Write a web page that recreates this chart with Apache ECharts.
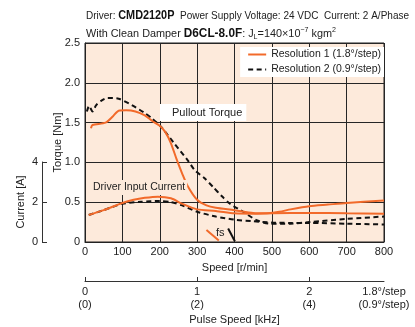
<!DOCTYPE html>
<html><head><meta charset="utf-8">
<script src="https://cdn.jsdelivr.net/npm/echarts@6/dist/echarts.min.js"></script>
<style>html,body{margin:0;padding:0;background:#fff}#c{width:415px;height:327px}</style>
</head><body><div id="c"></div>
<script>
// Pullout torque, Resolution 1 (1.8°/step)
const pullSpeed1 = [16, 20, 55, 75, 90, 110, 135, 160, 180, 200, 215, 230, 245, 260, 275, 300, 325, 350, 400, 450, 480, 520, 550, 600, 650, 700, 800];
const pullTorque1 = [1.43, 1.47, 1.50, 1.58, 1.65, 1.655, 1.64, 1.59, 1.52, 1.46, 1.38, 1.24, 1.04, 0.86, 0.70, 0.53, 0.46, 0.43, 0.40, 0.365, 0.36, 0.38, 0.41, 0.45, 0.47, 0.49, 0.52];
// Pullout torque, Resolution 2 (0.9°/step)
const pullSpeed2 = [5, 11, 20, 30, 45, 60, 90, 125, 160, 180, 205, 240, 276, 294, 320, 343, 365, 388, 423, 459, 495, 550, 600, 700, 800];
const pullTorque2 = [1.64, 1.71, 1.64, 1.72, 1.78, 1.81, 1.80, 1.72, 1.62, 1.55, 1.44, 1.23, 1.02, 0.90, 0.80, 0.69, 0.58, 0.48, 0.38, 0.275, 0.23, 0.23, 0.25, 0.29, 0.32];
// Driver input current [A], Resolution 1
const curSpeed1 = [10, 50, 100, 130, 160, 195, 230, 260, 300, 350, 400, 450, 500, 600, 700, 800];
const current1 = [1.36, 1.6, 1.96, 2.12, 2.22, 2.28, 2.2, 1.92, 1.64, 1.56, 1.44, 1.42, 1.44, 1.46, 1.44, 1.42];
// Driver input current [A], Resolution 2
const curSpeed2 = [10, 50, 100, 150, 200, 230, 260, 300, 350, 400, 450, 500, 550, 600, 700, 800];
const current2 = [1.36, 1.6, 1.92, 2.02, 2.06, 2.0, 1.84, 1.52, 1.28, 1.12, 1.04, 0.98, 0.96, 0.96, 0.92, 0.88];
// fs (starting pulse rate) markers
const fsSpeed1 = [325, 358];
const fsTorque1 = [0.15, 0.02];
const fsSpeed2 = [383, 401];
const fsTorque2 = [0.17, 0.01];
// Axes / text
const pulseTicks = [0, 1, 2];
const pulseLabels = ['0\n(0)', '1\n(2)', '2\n(4)'];
const pulseEndLabel = '1.8°/step\n(0.9°/step)';
const legendNames = ['Resolution 1 (1.8°/step)', 'Resolution 2 (0.9°/step)'];
const title1 = [['n', 'Driver: '], ['b', 'CMD2120P'], ['n', '  Power Supply Voltage: 24 VDC  Current: 2 A/Phase']];
const title2 = [['n', 'With Clean Damper '], ['b', 'D6CL-8.0F'], ['n', ': J'], ['s', 'L'], ['n', '=140×10'], ['p', '−7'], ['n', ' kgm'], ['p', '2']];

const FONT = '"Liberation Sans", Arial, sans-serif';
const ORANGE = '#f26a2a';
const BG = '#fdeadb';
const GRIDC = '#262626';
const FS = 11;
const zip = (a, b) => a.map((v, i) => [v, b[i]]);
const pulseMax = 800 / 300;

const rich = {
  n: {fontFamily: FONT, fontSize: 11.5, fill: '#222', fontWeight: 'normal', lineHeight: 15},
  b: {fontFamily: FONT, fontSize: 12.5, fill: '#111', fontWeight: 'bold', lineHeight: 15},
  s: {fontFamily: FONT, fontSize: 7.5, fill: '#222', verticalAlign: 'bottom', lineHeight: 13},
  p: {fontFamily: FONT, fontSize: 7.5, fill: '#222', verticalAlign: 'top', lineHeight: 15}
};
const mctx = document.createElement('canvas').getContext('2d');
function lineWidth(parts) {
  let w = 0;
  parts.forEach(([k, t]) => {
    const st = rich[k];
    mctx.font = (st.fontWeight === 'bold' ? 'bold ' : '') + st.fontSize + 'px ' + FONT;
    w += mctx.measureText(t).width;
  });
  return w;
}
const richText = parts => parts.map(([k, t]) => '{' + k + '|' + t + '}').join('');

const chart = echarts.init(document.getElementById('c'), null, {renderer: 'canvas'});
const txt = {fontFamily: FONT, fontSize: FS, color: '#222', fontWeight: 'normal'};
chart.setOption({
  animation: false,
  textStyle: {fontFamily: FONT},
  legend: {
    right: 31, top: 47, orient: 'vertical', backgroundColor: '#fff', padding: [2, 3, 2, 7],
    itemWidth: 18, itemHeight: 10, itemGap: 4, data: legendNames,
    itemStyle: {opacity: 0},
    textStyle: {fontFamily: FONT, fontSize: 10.5, color: '#222'}
  },
  grid: [
    {left: 85, right: 31, top: 43, bottom: 85, show: true, backgroundColor: BG, borderColor: '#222', borderWidth: 1},
    {left: 42, width: 1, top: 162, bottom: 85},
    {left: 85, right: 31, top: 280, height: 1}
  ],
  xAxis: [
    {gridIndex: 0, type: 'value', min: 0, max: 800, interval: 100,
     axisLine: {show: true, lineStyle: {color: '#222'}}, axisTick: {show: false},
     splitLine: {show: true, lineStyle: {color: GRIDC, width: 1}},
     axisLabel: Object.assign({margin: 4}, txt),
     name: 'Speed [r/min]', nameLocation: 'middle', nameGap: 20, nameMoveOverlap: false, nameTextStyle: txt},
    {gridIndex: 1, type: 'value', show: false},
    {gridIndex: 2, type: 'value', min: 0, max: pulseMax, position: 'bottom',
     axisLine: {show: true, lineStyle: {color: '#333'}},
     axisTick: {show: true, inside: true, length: 4, customValues: pulseTicks, lineStyle: {color: '#333'}},
     splitLine: {show: false},
     axisLabel: Object.assign({margin: 4, lineHeight: 13.5, customValues: pulseTicks.concat([pulseMax]),
       formatter: v => v > 2.5 ? pulseEndLabel : pulseLabels[Math.round(v)]}, txt),
     name: 'Pulse Speed [kHz]', nameLocation: 'middle', nameGap: 33, nameMoveOverlap: false, nameTextStyle: txt}
  ],
  yAxis: [
    {gridIndex: 0, type: 'value', min: 0, max: 2.5, interval: 0.5,
     axisLine: {show: true, lineStyle: {color: '#222'}}, axisTick: {show: false},
     splitLine: {show: true, lineStyle: {color: GRIDC, width: 1}},
     axisLabel: Object.assign({margin: 5, formatter: v => v === 0 ? '0' : v.toFixed(1)}, txt),
     name: 'Torque [Nm]', nameLocation: 'middle', nameGap: 22, nameMoveOverlap: false, nameTextStyle: txt},
    {gridIndex: 1, type: 'value', min: 0, max: 4, interval: 2,
     axisLine: {show: true, lineStyle: {color: '#333'}},
     axisTick: {show: true, inside: true, length: 5, lineStyle: {color: '#333'}},
     splitLine: {show: false},
     axisLabel: Object.assign({margin: 4}, txt),
     name: 'Current [A]', nameLocation: 'middle', nameGap: 16, nameMoveOverlap: false, nameTextStyle: txt},
    {gridIndex: 0, type: 'value', min: 0, max: 10, show: false},
    {gridIndex: 2, type: 'value', show: false}
  ],
  series: [
    {name: legendNames[1], type: 'line', xAxisIndex: 0, yAxisIndex: 0, data: zip(pullSpeed2, pullTorque2), smooth: 0.25, symbol: 'none',
     lineStyle: {color: '#111', width: 2, type: [5, 3.5]}, itemStyle: {color: '#111'}},
    {name: legendNames[1], type: 'line', xAxisIndex: 0, yAxisIndex: 2, data: zip(curSpeed2, current2), smooth: 0.25, symbol: 'none',
     lineStyle: {color: '#111', width: 2, type: [5, 3.5]}, itemStyle: {color: '#111'}},
    {name: legendNames[1], type: 'line', xAxisIndex: 0, yAxisIndex: 0, data: zip(fsSpeed2, fsTorque2), symbol: 'none',
     lineStyle: {color: '#111', width: 2}, itemStyle: {color: '#111'}},
    {name: legendNames[0], type: 'line', xAxisIndex: 0, yAxisIndex: 0, data: zip(pullSpeed1, pullTorque1), smooth: 0.25, symbol: 'none',
     lineStyle: {color: ORANGE, width: 2}, itemStyle: {color: ORANGE}},
    {name: legendNames[0], type: 'line', xAxisIndex: 0, yAxisIndex: 2, data: zip(curSpeed1, current1), smooth: 0.25, symbol: 'none',
     lineStyle: {color: ORANGE, width: 2}, itemStyle: {color: ORANGE}},
    {name: legendNames[0], type: 'line', xAxisIndex: 0, yAxisIndex: 0, data: zip(fsSpeed1, fsTorque1), symbol: 'none',
     lineStyle: {color: ORANGE, width: 2}, itemStyle: {color: ORANGE}}
  ],
  graphic: [
    {type: 'text', x: 86, y: 8, scaleX: 323 / lineWidth(title1), style: {text: richText(title1), rich: rich, fill: '#222'}},
    {type: 'text', x: 86, y: 26, scaleX: 250 / lineWidth(title2), style: {text: richText(title2), rich: rich, fill: '#222'}},
    {type: 'text', left: 160, top: 104, z: 10, style: {text: 'Pullout Torque', fontFamily: FONT, fontSize: FS, fill: '#222', backgroundColor: '#fff', padding: [3, 4, 3, 12]}},
    {type: 'text', left: 91, top: 180, z: 10, style: {text: 'Driver Input Current', fontFamily: FONT, fontSize: 10.5, fill: '#222', backgroundColor: BG, padding: [2, 2, 2, 2]}},
    {type: 'text', left: 216, top: 227, z: 10, style: {text: 'fs', fontFamily: FONT, fontSize: FS, fill: '#222'}}
  ]
});
</script></body></html>
